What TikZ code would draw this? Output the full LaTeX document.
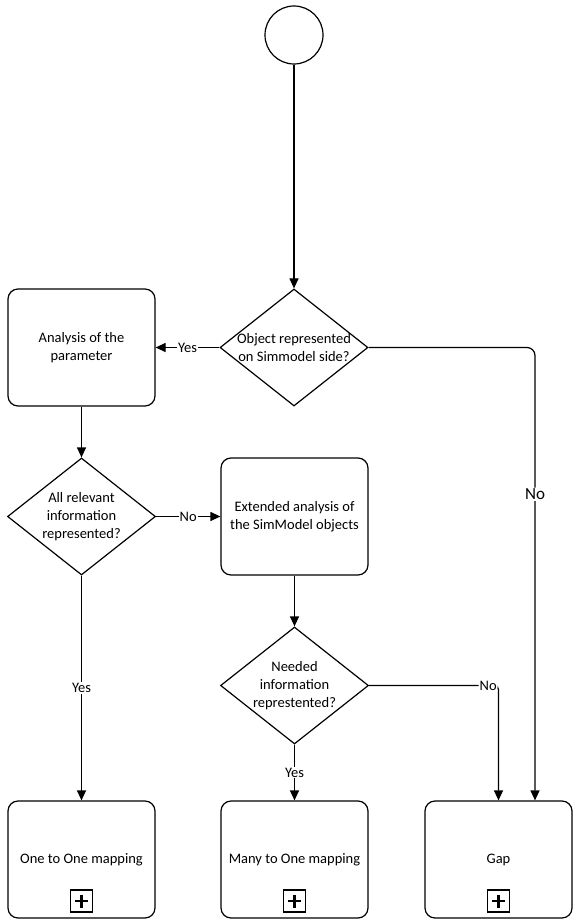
\documentclass[tikz,border=0pt]{standalone}
\usepackage{fontspec}
\setmainfont{Carlito}
\usetikzlibrary{shapes.geometric,arrows.meta}

\begin{document}
\begin{tikzpicture}[x=1pt,y=-1pt,
	task/.style={draw,rounded corners=10pt,line width=1.2pt,minimum width=147pt,minimum height=117pt,align=center,font=\fontsize{14.5}{18}\selectfont},
	decision/.style={draw,diamond,line width=1.2pt,minimum width=148pt,minimum height=117pt,inner sep=-3pt,aspect=1.265,align=center,font=\fontsize{14.5}{18}\selectfont},
	plusbox/.style={draw,line width=1.2pt,minimum size=22pt,inner sep=0pt,
		path picture={\draw[line width=2.8pt] (path picture bounding box.center) +(-6.5,0) -- +(6.5,0) +(0,-6.5) -- +(0,6.5);}},
	flow/.style={line width=1.2pt,-{Triangle[length=10pt,width=9pt]}},
	lbl/.style={fill=white,inner sep=1pt,font=\fontsize{14.5}{16}\selectfont}]
\useasboundingbox (0,0) rectangle (576,923);

\node[draw,circle,line width=1.2pt,minimum size=58pt] (start) at (294,35) {};
\node[decision] (q1) at (294,347.5) {Object represented\\on Simmodel side?};
\node[task] (analysis) at (81.5,347.5) {Analysis of the\\parameter};
\node[decision] (q2) at (81.5,516.5) {All relevant\\information\\represented?};
\node[task] (extended) at (294.5,516.5) {Extended analysis of\\the SimModel objects};
\node[decision] (q3) at (294.5,685.5) {Needed\\information\\represtented?};

% result boxes
\foreach \x/\n/\t in {81.5/oneone/One to One mapping, 294.5/manyone/Many to One mapping, 498.5/gap/Gap}
	{
	\node[task] (\n) at (\x,859.5) {\t};
	\node[plusbox] (\n plus) at (\x,901) {};
	}
\coordinate (gapright) at ([xshift=36.5pt]gap.north);

\draw[flow] (start) -- (q1);
\draw[flow] (q1) -- node[lbl] {Yes} (analysis);
\draw[flow,rounded corners=8pt] (q1.east) -| node[lbl,pos=0.662,font=\fontsize{17}{18}\selectfont] {No} (gapright);
\draw[flow] (analysis) -- (q2);
\draw[flow] (q2) -- node[lbl] {No} (extended);
\draw[flow] (q2) -- node[lbl] {Yes} (oneone);
\draw[flow] (extended) -- (q3);
\draw[flow] (q3) -- node[lbl] {Yes} (manyone);
\draw[flow,rounded corners=4pt] (q3.east) -| node[lbl,pos=0.46] {No} (gap.north);
\end{tikzpicture}
\end{document}
